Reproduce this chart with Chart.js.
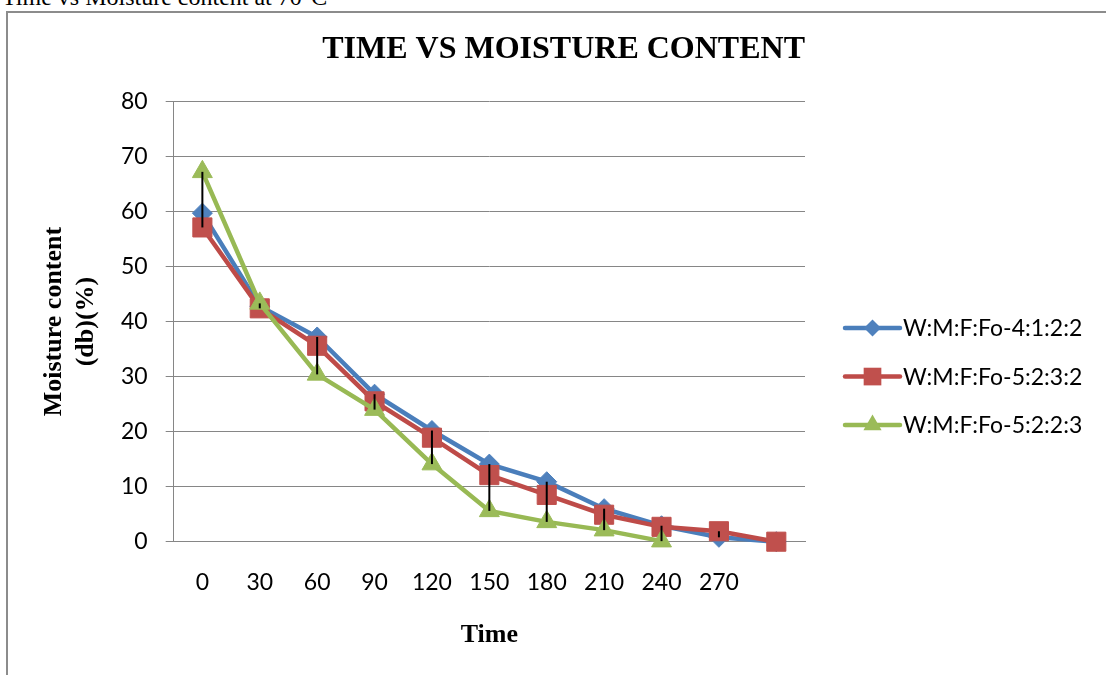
<!DOCTYPE html>
<html>
<head>
<meta charset="utf-8">
<script src="https://cdn.jsdelivr.net/npm/chart.js@4/dist/chart.umd.min.js"></script>
<style>
  body { margin: 0; background: #fff; width: 1106px; height: 675px; overflow: hidden; position: relative; }
  #caption { position: absolute; left: 2px; top: -15px; font: 24px/24px 'Liberation Serif', 'Times New Roman', serif; color: #000; white-space: nowrap; }
  #frame { position: absolute; left: 6px; top: 11px; width: 1200px; height: 800px; border-left: 2px solid #8c8c8c; border-top: 2px solid #8c8c8c; }
  #wrap { position: absolute; left: 9px; top: 14px; width: 1097px; height: 661px; }
</style>
</head>
<body>
<div id="caption">Time vs Moisture content at 70°C</div>
<div id="frame"></div>
<div id="wrap"><canvas id="chart-moisture"></canvas></div>
<script>
// Drying time (min) and moisture content (db, %)
const timeLabels = ['0', '30', '60', '90', '120', '150', '180', '210', '240', '270', ''];
const mix4122 = [59.7, 42.8, 37.2, 26.8, 20.2, 14.1, 10.9, 6.0, 2.9, 0.8, 0];
const mix5232 = [57.1, 42.4, 35.6, 25.5, 18.9, 12.1, 8.5, 4.9, 2.7, 1.9, 0];
const mix5223 = [67.2, 43.3, 30.4, 24.0, 14.1, 5.6, 3.6, 2.1, 0.1, null, null];
const seriesNames = ['W:M:F:Fo-4:1:2:2', 'W:M:F:Fo-5:2:3:2', 'W:M:F:Fo-5:2:2:3'];
const yTicks = [0, 10, 20, 30, 40, 50, 60, 70, 80];

const tickFont = "Lato, 'Noto Sans', sans-serif";
const serifFont = "'Liberation Serif', 'Times New Roman', serif";
const gridGray = '#868686';

// Excel-2007 style palette
const styles = [
  { line: '#4A7EBB', fill: '#4F81BD', marker: 'rectRot', radius: 10, legendSize: 8.5 },
  { line: '#BE4B48', fill: '#C0504D', marker: 'rect', radius: 13.5, legendSize: 12.5 },
  { line: '#98B954', fill: '#9BBB59', marker: 'triangle', radius: 11.5, legendSize: 10.5 }
];

function drawMarker(g, st, cx, cy, r) {
  g.fillStyle = st.fill;
  g.beginPath();
  if (st.marker === 'rectRot') {
    g.moveTo(cx, cy - r); g.lineTo(cx + r, cy); g.lineTo(cx, cy + r); g.lineTo(cx - r, cy);
  } else if (st.marker === 'rect') {
    const s = r * Math.SQRT1_2;
    g.rect(cx - s, cy - s, 2 * s, 2 * s);
  } else {
    g.moveTo(cx, cy - r);
    g.lineTo(cx + r * 0.866, cy + r * 0.5);
    g.lineTo(cx - r * 0.866, cy + r * 0.5);
  }
  g.closePath();
  g.fill();
}

// Legend to the right of the plot: line + marker + name, like the Excel legend
const lineLegend = {
  id: 'lineLegend',
  afterDraw(chart) {
    const { ctx, chartArea } = chart;
    const mid = (chartArea.top + chartArea.bottom) / 2 + 55;
    const gap = 48.5;
    ctx.save();
    chart.data.datasets.forEach((ds, i) => {
      const st = styles[i];
      const y = mid + (i - 1) * gap;
      const x0 = chartArea.right + 40;
      ctx.strokeStyle = st.line;
      ctx.lineWidth = 4.5;
      ctx.lineCap = 'round';
      ctx.beginPath(); ctx.moveTo(x0, y); ctx.lineTo(x0 + 55, y); ctx.stroke();
      drawMarker(ctx, st, x0 + 27.5, y, st.legendSize);
      ctx.fillStyle = '#000';
      ctx.font = '23px ' + tickFont;
      ctx.textAlign = 'left';
      ctx.textBaseline = 'middle';
      ctx.fillText(ds.label, x0 + 58, y + 1);
    });
    ctx.restore();
  }
};

// High-low lines: black vertical from highest to lowest series value at each time
const highLowLines = {
  id: 'highLowLines',
  afterDatasetsDraw(chart) {
    const { ctx, scales: { x, y } } = chart;
    const sets = chart.data.datasets.map(d => d.data);
    ctx.save();
    ctx.strokeStyle = '#000';
    ctx.lineWidth = 2;
    timeLabels.forEach((_, i) => {
      const vals = sets.map(s => s[i]).filter(v => v !== null && v !== undefined);
      if (vals.length < 2) return;
      const hi = Math.max(...vals), lo = Math.min(...vals);
      if (hi === lo) return;
      const px = x.getPixelForValue(i);
      ctx.beginPath();
      ctx.moveTo(px, y.getPixelForValue(hi));
      ctx.lineTo(px, y.getPixelForValue(lo));
      ctx.stroke();
    });
    ctx.restore();
  }
};

const seriesData = [mix4122, mix5232, mix5223];

new Chart(document.getElementById('chart-moisture'), {
  type: 'line',
  data: {
    labels: timeLabels,
    datasets: seriesData.map((data, i) => ({
      label: seriesNames[i],
      data: data,
      borderColor: styles[i].line,
      backgroundColor: styles[i].fill,
      borderWidth: 4.5,
      pointStyle: styles[i].marker,
      pointRadius: styles[i].radius,
      pointHoverRadius: styles[i].radius,
      pointBackgroundColor: styles[i].fill,
      pointBorderColor: styles[i].fill,
      pointBorderWidth: 1,
      tension: 0,
      spanGaps: false,
      clip: false,
      order: 3 - i
    }))
  },
  options: {
    responsive: true,
    maintainAspectRatio: false,
    animation: false,
    layout: { padding: { left: 11, right: 301, top: 0, bottom: 26.3 } },
    plugins: {
      title: {
        display: true,
        text: 'TIME VS MOISTURE CONTENT',
        align: 'end',
        color: '#000',
        font: { family: serifFont, size: 32, weight: 'bold' },
        padding: { top: 17, bottom: 32 }
      },
      legend: { display: false },
      tooltip: { enabled: false }
    },
    scales: {
      x: {
        type: 'category',
        offset: true,
        grid: { display: false, drawTicks: false },
        border: { display: true, color: gridGray, width: 1 },
        ticks: { color: '#000', font: { family: tickFont, size: 23, lineHeight: 1 }, padding: 29, maxRotation: 0, autoSkip: false },
        title: {
          display: true,
          text: 'Time',
          color: '#000',
          font: { family: serifFont, size: 26, weight: 'bold', lineHeight: 1 },
          padding: { top: 0, bottom: 0 }
        }
      },
      y: {
        min: yTicks[0],
        max: yTicks[yTicks.length - 1],
        afterBuildTicks: (axis) => { axis.ticks = yTicks.map(v => ({ value: v })); },
        grid: { color: gridGray, lineWidth: 1, tickLength: 8 },
        border: { display: true, color: gridGray, width: 1 },
        ticks: { color: '#000', font: { family: tickFont, size: 23 }, padding: 18 },
        title: {
          display: true,
          text: ['Moisture content', '(db)(%)'],
          color: '#000',
          font: { family: serifFont, size: 26, weight: 'bold', lineHeight: 1.25 },
          padding: { top: 18, bottom: 0 }
        }
      }
    }
  },
  plugins: [highLowLines, lineLegend]
});
</script>
</body>
</html>
